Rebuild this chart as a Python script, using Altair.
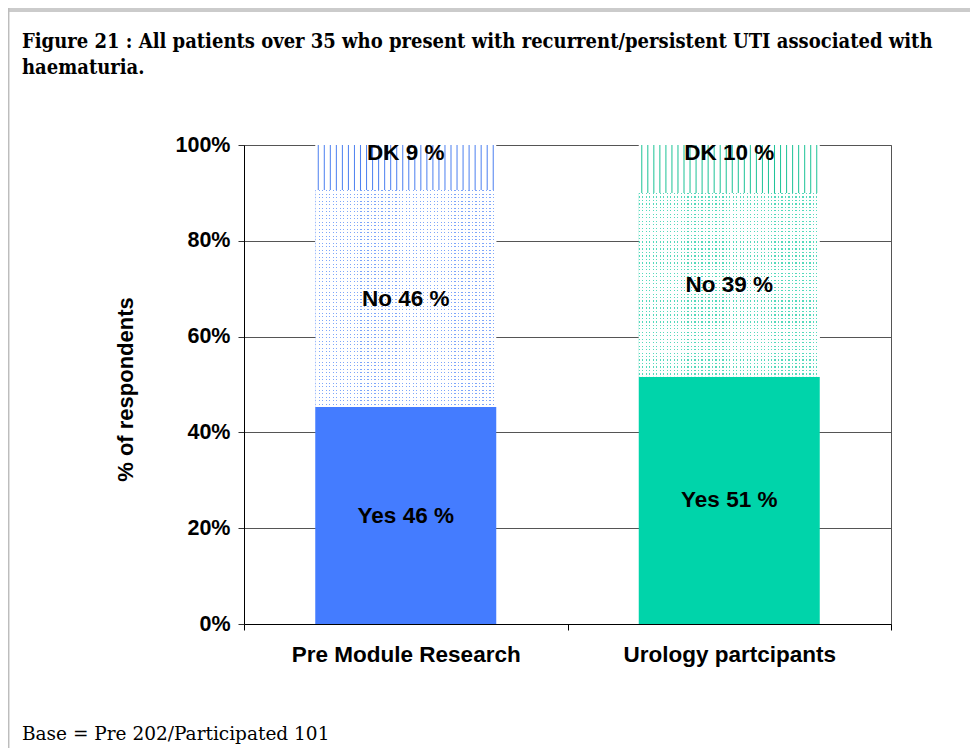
import altair as alt
import pandas as pd

# ---------------- data ----------------
groups = ["Pre Module Research", "Urology partcipants"]
yes_pct = [45.3, 51.6]
no_pct = [45.3, 38.4]
dk_pct = [9.4, 10.0]
yes_lbl = ["Yes 46 %", "Yes 51 %"]
no_lbl = ["No 46 %", "No 39 %"]
dk_lbl = ["DK 9 %", "DK 10 %"]
y_ticks = [0, 20, 40, 60, 80, 100]

title_lines = [
    "Figure 21 : All patients over 35 who present with recurrent/persistent UTI associated with",
    "haematuria.",
]
footer = "Base = Pre 202/Participated 101"

# ---------------- style ----------------
solid_colors = ["#447cff", "#00d4aa"]
dot_colors = ["#7ea6fa", "#55d9bb"]
line_colors = ["#4f82f0", "#20c498"]
SANS = "Liberation Sans, Arial, sans-serif"
W, H = 647, 479
BAR = 181

rows = []
for i, g in enumerate(groups):
    a = yes_pct[i]
    b = a + no_pct[i]
    c = b + dk_pct[i]
    rows.append(dict(group=g, seg="Yes", start=0, end=a, mid=a / 2, label=yes_lbl[i]))
    rows.append(dict(group=g, seg="No", start=a, end=b, mid=(a + b) / 2, label=no_lbl[i]))
    rows.append(dict(group=g, seg="DK", start=b, end=c, mid=(b + c) / 2, label=dk_lbl[i]))
df = pd.DataFrame(rows)

xscale = alt.Scale(domain=groups, paddingInner=0, paddingOuter=0)
yscale = alt.Scale(domain=[0, 100])
xaxis = alt.Axis(title=None, labelAngle=0, labelFont=SANS, labelFontSize=22.5,
                 labelFontWeight="bold", labelColor="black", labelPadding=13,
                 labelLimit=0, tickBand="extent", tickSize=6, tickColor="black",
                 domainColor="black", grid=False)
yaxis = alt.Axis(values=y_ticks, labelExpr="datum.value + '%'",
                 title="% of respondents", titleFont=SANS, titleFontSize=22,
                 titleFontWeight="bold", titleColor="black", titleX=-119,
                 titleY=244, titleAngle=270, titleAlign="center",
                 titleBaseline="middle", labelFont=SANS, labelFontSize=21.5,
                 labelFontWeight="bold", labelColor="black", labelPadding=8,
                 tickSize=6, tickColor="#333", domainColor="black",
                 grid=True, gridColor="#555")


def X():
    return alt.X("group:N", sort=groups, scale=xscale, axis=xaxis)


def Y(field):
    return alt.Y(field, type="quantitative", scale=yscale, axis=yaxis)


def stripes(color, n, frac, vertical_lines=True, back="white"):
    stops = []
    for i in range(n):
        stops += [
            alt.GradientStop(color=color, offset=i / n),
            alt.GradientStop(color=color, offset=(i + frac) / n),
            alt.GradientStop(color=back, offset=(i + frac) / n),
            alt.GradientStop(color=back, offset=(i + 1) / n),
        ]
    if vertical_lines:
        return alt.Gradient(gradient="linear", stops=stops, x1=0, x2=1, y1=0, y2=0)
    return alt.Gradient(gradient="linear", stops=stops, x1=0, x2=0, y1=0, y2=1)


def soft_lines(color, n, half, back="white"):
    # evenly looking thin lines: triangular colour peaks on white
    stops = []
    for i in range(n):
        stops += [
            alt.GradientStop(color=back, offset=i / n),
            alt.GradientStop(color=back, offset=(i + 0.5 - half) / n),
            alt.GradientStop(color=color, offset=(i + 0.5) / n),
            alt.GradientStop(color=back, offset=(i + 0.5 + half) / n),
            alt.GradientStop(color=back, offset=(i + 1) / n),
        ]
    return alt.Gradient(gradient="linear", stops=stops, x1=0, x2=1, y1=0, y2=0)


layers = []

# Yes segments (solid)
layers.append(
    alt.Chart(df[df.seg == "Yes"]).mark_bar(size=BAR).encode(
        x=X(), y=Y("start"), y2="end",
        color=alt.Color("group:N", scale=alt.Scale(domain=groups, range=solid_colors), legend=None),
    )
)

for i, g in enumerate(groups):
    # No segments: dotted pattern (vertical dot columns + white horizontal mask)
    sub_no = df[(df.seg == "No") & (df.group == g)]
    n_rows = max(1, round(no_pct[i] * H / 100 / 3.5))
    layers.append(
        alt.Chart(sub_no).mark_bar(size=BAR, color=stripes(dot_colors[i], 52, 0.35)).encode(
            x=X(), y=Y("start"), y2="end")
    )
    layers.append(
        alt.Chart(sub_no).mark_bar(
            size=BAR,
            color=stripes("rgba(255,255,255,0)", n_rows, 0.35, vertical_lines=False, back="white"),
        ).encode(x=X(), y=Y("start"), y2="end")
    )
    # DK segments: vertical line pattern
    sub_dk = df[(df.seg == "DK") & (df.group == g)]
    layers.append(
        alt.Chart(sub_dk).mark_bar(size=BAR, color=soft_lines(line_colors[i], 30, 0.17)).encode(
            x=X(), y=Y("start"), y2="end")
    )

# Labels
layers.append(
    alt.Chart(df[df.seg != "DK"]).mark_text(
        font=SANS, fontSize=22.5, fontWeight="bold", color="black", baseline="middle"
    ).encode(x=X(), y=Y("mid"), text="label:N")
)
layers.append(
    alt.Chart(df[df.seg == "DK"]).mark_text(
        font=SANS, fontSize=22.5, fontWeight="bold", color="black", baseline="middle", dy=8
    ).encode(x=X(), y=Y("end"), text="label:N")
)

one = alt.Data(values=[{"a": 1}])
# Title
layers.append(
    alt.Chart(one).mark_text(
        text=title_lines, align="left", baseline="alphabetic",
        font="DejaVu Serif Condensed, DejaVu Serif, serif", fontSize=20,
        fontWeight="bold", color="black", lineHeight=26,
    ).encode(x=alt.value(-222), y=alt.value(-97))
)
# Footer
layers.append(
    alt.Chart(one).mark_text(
        text=footer, align="left", baseline="alphabetic",
        font="DejaVu Serif, serif", fontSize=18.5, color="black",
    ).encode(x=alt.value(-222), y=alt.value(595))
)
# Page frame
layers.append(
    alt.Chart(one).mark_rule(color="#cbcbcb", strokeWidth=4).encode(
        x=alt.value(-236), x2=alt.value(726), y=alt.value(-135))
)
layers.append(
    alt.Chart(one).mark_rule(color="#bdbdbd", strokeWidth=1.5).encode(
        x=alt.value(-235.3), y=alt.value(-137), y2=alt.value(603))
)

chart = alt.layer(*layers).properties(
    width=W, height=H,
    padding={"left": 236, "top": 137, "right": 79, "bottom": 124},
    autosize=alt.AutoSizeParams(type="none"),
    background="white",
).configure_view(stroke="#555", strokeWidth=1)

chart.save("out.html", embed_options={"renderer": "svg", "actions": False})
